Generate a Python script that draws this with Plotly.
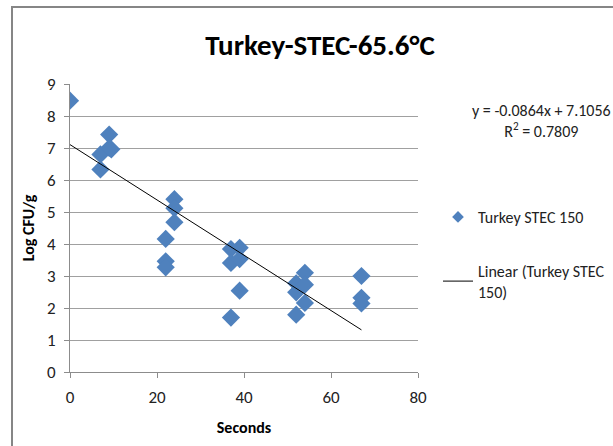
import plotly.graph_objects as go

seconds = [0, 7, 7, 9, 9, 9.5, 22, 22, 22, 24, 24, 24, 37, 37, 37, 39, 39, 39,
           52, 52, 52, 54, 54, 54, 67, 67, 67]
log_cfu = [8.48, 6.80, 6.33, 7.42, 7.00, 6.96, 4.16, 3.46, 3.27, 5.40, 5.12, 4.68,
           3.84, 3.41, 1.70, 3.88, 3.53, 2.54, 2.77, 2.49, 1.79, 3.10, 2.73, 2.16,
           3.00, 2.32, 2.14]
slope = -0.0864
intercept = 7.1056
r2 = 0.7809
title_text = "Turkey-STEC-65.6°C"
series_name = "Turkey STEC 150"
trend_name = "Linear (Turkey STEC<br>150)"
x_ticks = [0, 20, 40, 60, 80]
y_ticks = [0, 1, 2, 3, 4, 5, 6, 7, 8, 9]

FONT = "Carlito, Liberation Sans Narrow, Open Sans, sans-serif"
BLUE = "#4F81BD"

trend_x = [min(seconds), max(seconds)]
trend_y = [intercept + slope * v for v in trend_x]

fig = go.Figure()
fig.add_trace(go.Scatter(
    x=seconds, y=log_cfu, mode="markers", name=series_name,
    marker=dict(symbol="diamond", size=14, color=BLUE),
    showlegend=False,
))
# legend proxy with a smaller diamond, as in the reference legend
fig.add_trace(go.Scatter(
    x=[None], y=[None], mode="markers", name=series_name,
    marker=dict(symbol="diamond", size=9, color=BLUE),
    legendgroup="a",
))
fig.add_trace(go.Scatter(
    x=trend_x, y=trend_y, mode="lines", name=trend_name,
    line=dict(color="black", width=1),
    legendgroup="b",
))

axis_common = dict(
    showline=True, linecolor="#8c8c8c", linewidth=1,
    ticks="outside", tickcolor="#8c8c8c", ticklen=5,
    tickfont=dict(family=FONT, size=17, color="#222222"),
    zeroline=False, automargin=False,
)

fig.update_layout(
    width=613, height=446,
    margin=dict(l=70, r=195, t=84, b=74, autoexpand=False),
    paper_bgcolor="white", plot_bgcolor="white",
    title=dict(text="<b>%s</b>" % title_text, x=320 / 613, xanchor="center",
               y=1 - 45 / 446, yanchor="middle",
               font=dict(family=FONT, size=29, color="black")),
    xaxis=dict(range=[0, 80], tickvals=x_ticks, showgrid=False,
               ticklabelstandoff=5,
               title=dict(text="<b>Seconds</b>", standoff=14,
                          font=dict(family=FONT, size=16, color="black")),
               **axis_common),
    yaxis=dict(range=[0, 9], tickvals=y_ticks, showgrid=True,
               gridcolor="#a0a0a0", gridwidth=1, ticklabelstandoff=5,
               title=dict(text="<b>Log CFU/g</b>", standoff=8,
                          font=dict(family=FONT, size=16, color="black")),
               **axis_common),
    legend=dict(xref="container", yref="container",
                x=438 / 613, xanchor="left", y=1 - 200 / 446,
                yanchor="top", tracegroupgap=30,
                font=dict(family=FONT, size=16, color="#222222"),
                bgcolor="rgba(0,0,0,0)", itemwidth=30),
    showlegend=True,
)

fig.add_annotation(
    xref="paper", yref="paper", x=(541 - 70) / 348, y=(372 - 121) / 288,
    xanchor="center", yanchor="middle", showarrow=False, align="center",
    text="y = %.4fx + %.4f<br>R<sup>2</sup> = %.4f" % (slope, intercept, r2),
    font=dict(family=FONT, size=16, color="#222222"),
)

# outer chart border
fig.add_shape(type="rect", xref="paper", yref="paper",
              x0=(12 - 70) / 348, x1=2.0, y0=-1.0, y1=(372 - 7) / 288,
              line=dict(color="#868686", width=2), fillcolor="rgba(0,0,0,0)",
              layer="below")

fig.write_html("out.html")
